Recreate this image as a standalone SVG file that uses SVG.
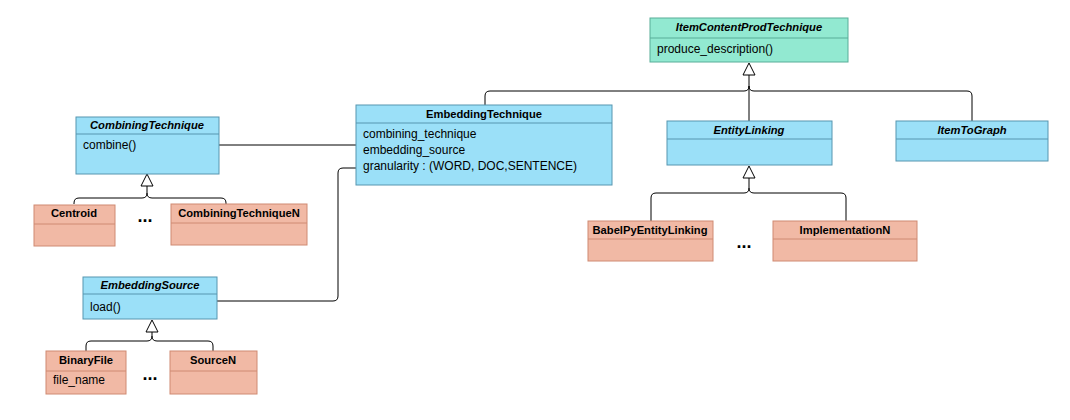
<svg xmlns="http://www.w3.org/2000/svg" width="1070" height="420" viewBox="0 0 1070 420">
<style>
.blue{fill:#9be0f8;stroke:#5796b0;stroke-width:1}
.green{fill:#92e9d1;stroke:#58ad98;stroke-width:1}
.red{fill:#f1b9a5;stroke:#cf8a72;stroke-width:1}
.div{fill:none;stroke-width:1}
.bd{stroke:#5796b0}.gd{stroke:#58ad98}.rd{stroke:#cf8a72}
text{font-family:"Liberation Sans",Arial,sans-serif;font-size:12px;fill:#000}
.h{font-weight:bold;text-anchor:middle;font-size:11.2px}
.hi{font-weight:bold;font-style:italic;text-anchor:middle;font-size:11.2px}
.dots{font-weight:bold;font-size:18px;text-anchor:middle}
.conn path{fill:none;stroke:#000;stroke-width:1}
.conn polygon{fill:#fff;stroke:#000;stroke-width:1}
</style>
<rect width="1070" height="420" fill="#fff"/>
<g id="connectors" class="conn">
<path d="M749,121 V75"/>
<path d="M485,105 V96 Q485,91 490,91 H744 Q749,91 749,86"/>
<path d="M972,121 V96 Q972,91 967,91 H754 Q749,91 749,86"/>
<polygon points="749,63 743,75 755,75"/>
<path d="M74,204 V203 Q74,198 79,198 H142 Q147,198 147,193 V186"/>
<path d="M226,204 V203 Q226,198 221,198 H152 Q147,198 147,193"/>
<polygon points="147,174 141,186 153,186"/>
<path d="M86,351 V346 Q86,341 91,341 H147 Q152,341 152,336 V332"/>
<path d="M213,351 V346 Q213,341 208,341 H157 Q152,341 152,336"/>
<polygon points="152,320 146,332 158,332"/>
<path d="M651,221 V198 Q651,193 656,193 H744 Q749,193 749,188 V178"/>
<path d="M846,221 V198 Q846,193 841,193 H754 Q749,193 749,188"/>
<polygon points="749,166 743,178 755,178"/>
<path d="M219,145 H356"/>
<path d="M217,301 H333 Q338,301 338,296 V173 Q338,168 343,168 H356"/>
</g>
<g id="ItemContentProdTechnique">
<rect class="green" x="650" y="18" width="198" height="44"/>
<path class="div gd" d="M650,38 H848"/>
<text class="hi" x="749" y="31">ItemContentProdTechnique</text>
<text x="657" y="53">produce_description()</text>
</g>
<g id="EmbeddingTechnique">
<rect class="blue" x="356" y="105" width="256" height="80"/>
<path class="div bd" d="M356,123 H612"/>
<text class="h" x="484" y="118">EmbeddingTechnique</text>
<text x="363" y="138">combining_technique</text>
<text x="363" y="154">embedding_source</text>
<text x="363" y="170">granularity : (WORD, DOC,SENTENCE)</text>
</g>
<g id="CombiningTechnique">
<rect class="blue" x="76" y="117" width="143" height="57"/>
<path class="div bd" d="M76,134 H219"/>
<text class="hi" x="147" y="129">CombiningTechnique</text>
<text x="83" y="149">combine()</text>
</g>
<g id="Centroid">
<rect class="red" x="34" y="205" width="81" height="41"/>
<path class="div rd" d="M34,224 H115"/>
<text class="h" x="74" y="217">Centroid</text>
</g>
<g id="CombiningTechniqueN">
<rect class="red" x="171" y="204" width="136" height="41"/>
<path class="div rd" d="M171,223 H307"/>
<text class="h" x="239" y="217">CombiningTechniqueN</text>
</g>
<text class="dots" x="145" y="222">...</text>
<g id="EmbeddingSource">
<rect class="blue" x="83" y="277" width="134" height="42"/>
<path class="div bd" d="M83,294 H217"/>
<text class="hi" x="150" y="289">EmbeddingSource</text>
<text x="90" y="311">load()</text>
</g>
<g id="BinaryFile">
<rect class="red" x="46" y="351" width="80" height="43"/>
<path class="div rd" d="M46,371 H126"/>
<text class="h" x="86" y="364">BinaryFile</text>
<text x="53" y="384">file_name</text>
</g>
<g id="SourceN">
<rect class="red" x="170" y="351" width="87" height="43"/>
<path class="div rd" d="M170,371 H257"/>
<text class="h" x="213" y="364">SourceN</text>
</g>
<text class="dots" x="150" y="380">...</text>
<g id="EntityLinking">
<rect class="blue" x="667" y="121" width="165" height="44"/>
<path class="div bd" d="M667,139 H832"/>
<text class="hi" x="749" y="134">EntityLinking</text>
</g>
<g id="ItemToGraph">
<rect class="blue" x="896" y="121" width="152" height="40"/>
<path class="div bd" d="M896,139 H1048"/>
<text class="hi" x="972" y="134">ItemToGraph</text>
</g>
<g id="BabelPyEntityLinking">
<rect class="red" x="588" y="221" width="125" height="40"/>
<path class="div rd" d="M588,239 H713"/>
<text class="h" x="650" y="234">BabelPyEntityLinking</text>
</g>
<g id="ImplementationN">
<rect class="red" x="773" y="221" width="144" height="40"/>
<path class="div rd" d="M773,239 H917"/>
<text class="h" x="845" y="234">ImplementationN</text>
</g>
<text class="dots" x="744" y="248">...</text>
</svg>
